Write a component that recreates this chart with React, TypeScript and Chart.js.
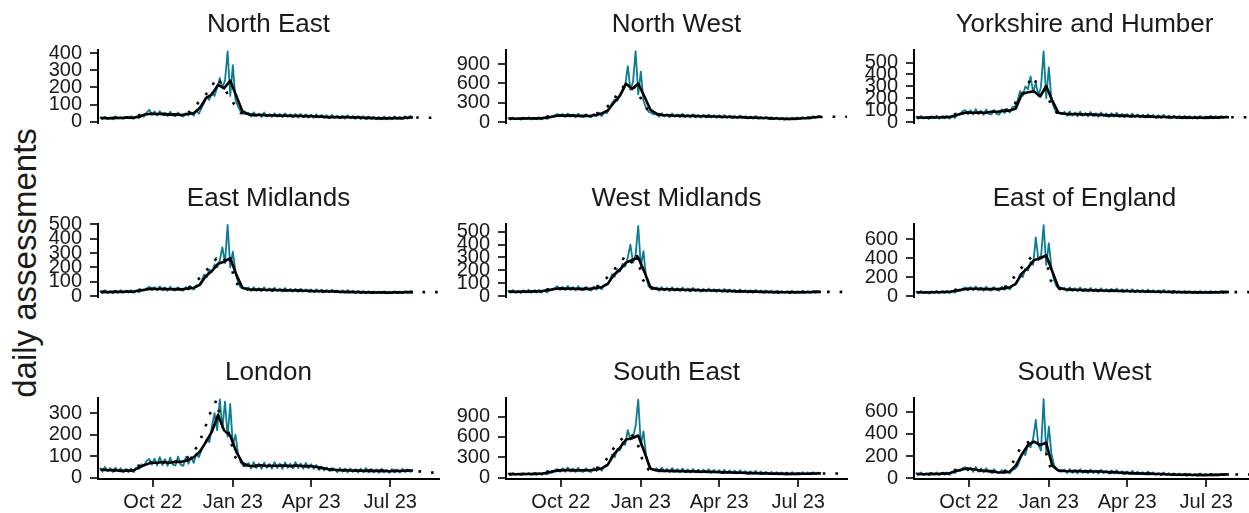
import React, { useEffect, useRef } from "react";
import { Chart, registerables } from "chart.js";

Chart.register(...registerables);

const FONT = '"Liberation Sans", Arial, Helvetica, sans-serif';
const TEAL = "#0b7d92";
const TEXT = "#1a1a1a";

// x axis: days relative to 1 Oct 2022
const X_MIN = -63;
const X_MAX = 329;
const X_TICKS = [0, 92, 182, 273];
const X_TICK_LABELS = ["Oct 22", "Jan 23", "Apr 23", "Jul 23"];

// series sampling (first day, step in days)
const DAILY_START = -61;
const DAILY_STEP = 3;
const SMOOTH_START = -58;
const SMOOTH_STEP = 7;
const DOTTED_START = -60;
const DOTTED_STEP = 7;

const REGIONS = [
  "North East", "North West", "Yorkshire and Humber",
  "East Midlands", "West Midlands", "East of England",
  "London", "South East", "South West",
];

// ---------- North East ----------
const neDaily = [
  28, 15, 30, 18, 25, 14, 31, 19, 27, 16, 29, 20, 33, 17, 30, 22,
  35, 30, 55, 70, 42,
  60, 36, 62, 40, 52, 33, 58, 38, 32, 54, 36, 30, 50, 38,
  55, 36, 66, 48, 80,
  110, 145, 128, 170, 150, 200, 255, 200,
  240, 410, 150, 330, 130,
  90, 60, 48, 45,
  52, 30, 55, 33, 46, 28, 54, 31, 45, 29,
  50, 30, 46, 27, 49, 29, 44, 26, 45, 25,
  46, 27, 43, 24, 42, 23, 44, 25, 40, 22,
  38, 21, 40, 22, 36, 20, 35, 18, 38, 20,
  34, 17, 33, 16, 32, 15, 31, 15, 30, 16,
  29, 14, 31, 15, 28, 15, 32, 16, 30, 16,
  33, 18, 34, 26,
];
const neSmooth = [
  22, 20, 23, 22, 25, 23, 30, 42, 47, 45,
  46, 42, 43, 40, 45, 50, 80, 138, 160, 215,
  195, 240, 150, 62, 43, 39, 41, 37, 38, 35,
  37, 34, 35, 32, 33, 31, 30, 27, 28, 26,
  28, 25, 26, 23, 23, 20, 21, 20, 22, 20,
  24, 25,
];
const neDotted = [
  22, 21, 22, 23, 24, 25, 35, 46, 47, 45,
  43, 42, 41, 43, 48, 65, 110, 150, 185, 257,
  215, 153, 100, 52, 42, 40, 39, 38, 37, 36,
  35, 35, 34, 33, 33, 31, 29, 27, 26, 28,
  27, 26, 24, 23, 21, 20, 21, 20, 21, 22,
  24, 25, 25, 25, 24, 24, 24,
];

// ---------- North West ----------
const nwDaily = [
  68, 40, 72, 44, 62, 38, 70, 45, 75, 40, 66, 44, 74, 42, 70, 50,
  70, 75, 105, 125, 90,
  128, 78, 134, 82, 120, 74, 130, 84, 78, 124, 84, 74, 128, 90,
  140, 92, 150, 140, 220,
  300, 350, 330, 420, 480, 560, 866, 500,
  620, 1100, 430, 782, 330,
  220, 160, 140, 120,
  135, 82, 138, 86, 124, 76, 134, 82, 118, 74,
  128, 78, 116, 72, 122, 76, 112, 68, 114, 70,
  118, 72, 108, 66, 106, 64, 110, 68, 100, 62,
  96, 58, 102, 62, 92, 55, 88, 52, 94, 56,
  85, 50, 82, 47, 76, 43, 70, 40, 68, 42,
  66, 40, 70, 44, 72, 48, 78, 52, 84, 56,
  90, 62, 96, 82,
];
const nwSmooth = [
  56, 53, 57, 55, 60, 58, 72, 86, 102, 101,
  104, 96, 98, 95, 110, 135, 180, 300, 410, 596,
  512, 596, 400, 190, 130, 108, 106, 98, 100, 94,
  96, 90, 92, 86, 87, 80, 82, 76, 77, 70,
  70, 63, 64, 58, 56, 49, 50, 51, 59, 64,
  75, 82,
];
const nwDotted = [
  55, 55, 56, 57, 59, 62, 78, 95, 102, 103,
  100, 97, 96, 100, 118, 150, 230, 290, 470, 560,
  580, 520, 307, 170, 125, 110, 103, 99, 97, 95,
  93, 91, 89, 86, 83, 81, 79, 76, 73, 70,
  66, 63, 61, 58, 55, 51, 48, 50, 55, 62,
  70, 78, 80, 82, 82, 82, 82,
];

// ---------- Yorkshire and Humber ----------
const yhDaily = [
  48, 28, 52, 30, 44, 26, 50, 31, 54, 28, 47, 31, 54, 29, 50, 34,
  60, 65, 92, 100, 66,
  100, 62, 108, 66, 96, 60, 106, 68, 64, 102, 68, 62, 108, 76,
  112, 80, 125, 130, 180,
  260, 220, 300, 276, 384, 250, 330, 220,
  300, 595, 200, 460, 190,
  120, 80, 72, 66,
  86, 52, 90, 54, 80, 48, 88, 52, 76, 46,
  84, 50, 74, 44, 80, 48, 72, 43, 74, 44,
  78, 47, 69, 41, 66, 40, 71, 43, 64, 38,
  62, 37, 66, 39, 59, 35, 57, 33, 61, 36,
  55, 32, 53, 31, 52, 30, 51, 29, 50, 30,
  48, 28, 52, 31, 47, 29, 53, 32, 50, 31,
  52, 33, 49, 40,
];
const yhSmooth = [
  38, 36, 39, 38, 41, 40, 56, 70, 80, 78,
  80, 78, 86, 86, 94, 96, 114, 235, 250, 258,
  215, 303, 180, 78, 70, 66, 68, 63, 65, 60,
  62, 56, 58, 52, 54, 49, 51, 46, 48, 43,
  45, 40, 42, 37, 39, 36, 38, 35, 39, 37,
  40, 40,
];
const yhDotted = [
  38, 38, 38, 39, 41, 44, 62, 75, 79, 79,
  79, 82, 86, 90, 95, 105, 150, 200, 290, 384,
  305, 270, 159, 80, 69, 67, 65, 64, 62, 61,
  59, 57, 55, 53, 51, 50, 49, 47, 45, 44,
  42, 41, 39, 38, 38, 37, 37, 38, 38, 39,
  40, 40, 40, 40, 40, 40, 40,
];

// ---------- East Midlands ----------
const emDaily = [
  38, 22, 41, 23, 35, 20, 39, 24, 42, 22, 37, 25, 42, 23, 39, 27,
  38, 40, 55, 65, 42,
  63, 39, 68, 41, 60, 37, 66, 42, 39, 62, 42, 38, 64, 45,
  66, 46, 76, 75, 105,
  150, 130, 185, 170, 220, 200, 250, 340,
  230, 495, 200, 310, 170,
  95, 60, 52, 48,
  60, 36, 62, 38, 56, 34, 61, 37, 54, 33,
  58, 35, 52, 32, 56, 34, 51, 31, 50, 30,
  52, 32, 47, 29, 46, 28, 48, 30, 45, 27,
  43, 26, 45, 27, 40, 25, 39, 23, 42, 25,
  38, 22, 37, 21, 36, 20, 34, 20, 33, 21,
  32, 19, 34, 20, 32, 20, 35, 21, 33, 20,
  34, 22, 33, 28,
];
const emSmooth = [
  30, 28, 31, 30, 32, 31, 39, 45, 51, 50,
  51, 48, 49, 47, 53, 57, 78, 140, 175, 225,
  240, 265, 150, 58, 48, 45, 46, 43, 44, 41,
  42, 39, 40, 37, 37, 34, 35, 32, 33, 30,
  31, 28, 29, 26, 27, 25, 26, 24, 27, 25,
  28, 28,
];
const emDotted = [
  30, 30, 30, 31, 32, 34, 42, 48, 51, 51,
  49, 48, 48, 50, 55, 70, 115, 160, 210, 260,
  230, 290, 110, 52, 47, 45, 44, 43, 42, 41,
  40, 39, 38, 37, 35, 34, 33, 32, 31, 30,
  29, 28, 27, 26, 26, 25, 25, 26, 26, 27,
  28, 28, 28, 28, 28, 28, 28,
];

// ---------- West Midlands ----------
const wmDaily = [
  44, 26, 47, 27, 41, 24, 45, 28, 49, 26, 43, 28, 49, 27, 45, 30,
  44, 46, 63, 76, 48,
  72, 45, 78, 47, 70, 43, 76, 48, 45, 72, 49, 43, 75, 50,
  76, 52, 88, 90, 120,
  170, 150, 210, 190, 250, 230, 300, 400,
  260, 320, 545, 230, 350,
  150, 75, 60, 55,
  68, 41, 71, 43, 64, 39, 69, 42, 62, 38,
  66, 40, 60, 37, 64, 39, 58, 35, 57, 35,
  59, 37, 54, 33, 53, 32, 56, 34, 51, 31,
  49, 30, 52, 32, 46, 28, 45, 26, 48, 29,
  44, 26, 43, 25, 42, 24, 40, 23, 39, 25,
  38, 22, 40, 24, 38, 23, 41, 25, 39, 24,
  40, 26, 39, 33,
];
const wmSmooth = [
  35, 33, 36, 35, 38, 37, 46, 53, 59, 58,
  59, 56, 57, 56, 63, 69, 95, 165, 205, 260,
  280, 300, 190, 70, 56, 53, 53, 50, 51, 47,
  48, 45, 46, 43, 43, 40, 41, 37, 38, 35,
  36, 33, 34, 31, 32, 30, 31, 29, 32, 30,
  33, 33,
];
const wmDotted = [
  35, 35, 35, 36, 38, 41, 50, 56, 59, 59,
  57, 56, 57, 60, 66, 85, 135, 190, 240, 300,
  250, 330, 130, 62, 55, 53, 51, 50, 49, 47,
  46, 45, 44, 43, 41, 40, 39, 37, 36, 35,
  34, 33, 32, 31, 31, 30, 30, 31, 31, 32,
  33, 33, 33, 33, 33, 33, 33,
];

// ---------- East of England ----------
const eeDaily = [
  50, 29, 54, 31, 47, 27, 52, 32, 56, 29, 49, 32, 56, 31, 52, 34,
  55, 52, 78, 92, 60,
  94, 58, 102, 60, 90, 56, 99, 62, 58, 94, 63, 57, 98, 66,
  102, 70, 115, 115, 160,
  230, 200, 290, 270, 360, 330, 620, 380,
  420, 750, 330, 560, 300,
  170, 100, 80, 72,
  88, 53, 92, 55, 83, 50, 90, 53, 78, 48,
  86, 51, 76, 46, 83, 49, 74, 44, 76, 46,
  80, 49, 71, 43, 69, 42, 73, 44, 66, 40,
  64, 38, 68, 41, 61, 37, 59, 35, 64, 38,
  58, 33, 56, 32, 54, 31, 53, 31, 52, 32,
  51, 30, 54, 32, 50, 31, 55, 34, 52, 33,
  54, 35, 51, 42,
];
const eeSmooth = [
  40, 38, 41, 40, 43, 43, 56, 67, 75, 77,
  77, 73, 74, 74, 81, 91, 130, 240, 300, 380,
  400, 430, 260, 90, 72, 67, 67, 63, 63, 59,
  59, 56, 57, 54, 54, 51, 51, 48, 48, 45,
  46, 43, 44, 41, 42, 39, 40, 38, 41, 39,
  42, 42,
];
const eeDotted = [
  40, 40, 40, 41, 43, 48, 62, 72, 76, 77,
  75, 73, 74, 78, 86, 110, 200, 280, 360, 420,
  380, 470, 170, 80, 70, 67, 65, 63, 61, 59,
  57, 56, 55, 54, 52, 51, 49, 48, 46, 45,
  44, 43, 42, 41, 40, 39, 39, 40, 40, 41,
  42, 42, 42, 42, 42, 42, 42,
];

// ---------- London ----------
const ldDaily = [
  46, 27, 49, 29, 44, 26, 46, 29, 43, 24, 40, 25, 42, 24, 46, 40,
  62, 56, 78, 86, 60,
  88, 56, 95, 58, 86, 54, 93, 60, 56, 98, 60, 54, 95, 64,
  96, 68, 112, 95, 130,
  150, 180, 165, 240, 300, 220, 365, 230,
  354, 190, 343, 150, 200,
  110, 70, 58, 52,
  68, 42, 72, 44, 65, 40, 70, 45, 63, 41,
  72, 44, 65, 40, 70, 45, 64, 42, 72, 44,
  65, 41, 68, 43, 62,
  40, 58, 36, 50, 33, 46, 30, 44,
  40, 25, 44, 27, 41, 24, 42, 26, 39, 23,
  41, 25, 44, 26, 40, 23, 38, 22, 41, 24,
  36, 22, 40, 24, 37, 23, 41, 25, 38, 26,
  34,
];
const ldSmooth = [
  36, 34, 35, 31, 32, 32, 46, 59, 69, 69,
  72, 69, 73, 73, 81, 95, 120, 165, 215, 292,
  220, 195, 120, 68, 55, 53, 57, 54, 55, 55,
  56, 53, 56, 53, 54, 50, 45, 40, 36, 34,
  35, 32, 33, 31, 32, 31, 32, 29, 31, 30,
  33, 33,
];
const ldDotted = [
  37, 35, 33, 31, 32, 38, 52, 65, 70, 71,
  70, 71, 73, 77, 88, 110, 150, 220, 300, 360,
  240, 215, 100, 58, 56, 55, 56, 55, 55, 56,
  54, 55, 54, 53, 52, 48, 42, 37, 35, 34,
  33, 32, 32, 31, 31, 31, 30, 30, 30, 31,
  32, 32, 30, 26, 24, 22, 22,
];

// ---------- South East ----------
const seDaily = [
  62, 38, 66, 40, 57, 35, 64, 41, 68, 38, 60, 41, 68, 39, 63, 44,
  70, 68, 102, 125, 85,
  136, 85, 148, 88, 130, 82, 143, 90, 85, 136, 92, 82, 140, 96,
  148, 100, 165, 170, 230,
  340, 300, 420, 400, 520, 480, 700, 560,
  600, 760, 1150, 480, 680,
  330, 180, 130, 115,
  138, 84, 146, 88, 128, 78, 140, 86, 124, 76,
  134, 82, 120, 73, 126, 77, 116, 70, 118, 72,
  122, 74, 112, 68, 110, 66, 115, 70, 104, 63,
  100, 60, 106, 64, 95, 58, 92, 54, 98, 58,
  88, 52, 84, 49, 81, 47, 78, 45, 76, 47,
  74, 44, 78, 46, 72, 45, 80, 49, 76, 47,
  78, 50, 74, 60,
];
const seSmooth = [
  50, 48, 51, 51, 54, 55, 71, 91, 105, 109,
  109, 105, 106, 107, 116, 134, 190, 340, 440, 560,
  580, 620, 380, 130, 105, 98, 99, 94, 95, 90,
  91, 86, 87, 82, 81, 76, 76, 70, 71, 65,
  65, 60, 61, 56, 57, 54, 55, 53, 56, 55,
  59, 60,
];
const seDotted = [
  50, 50, 50, 52, 54, 60, 80, 98, 106, 109,
  107, 105, 106, 112, 125, 160, 260, 400, 520, 600,
  640, 560, 250, 115, 102, 99, 97, 95, 93, 91,
  89, 87, 85, 82, 79, 76, 73, 71, 68, 65,
  63, 61, 59, 57, 55, 54, 54, 55, 55, 57,
  59, 60, 60, 60, 60, 60, 60,
];

// ---------- South West ----------
const swDaily = [
  50, 29, 53, 30, 46, 27, 51, 32, 54, 29, 48, 32, 54, 31, 55, 48,
  72, 64, 92, 100, 70,
  96, 58, 102, 60, 88, 54, 90, 58, 52, 82, 54, 47, 75, 50,
  68, 45, 76, 85, 110,
  170, 230, 210, 300, 280, 360, 525, 300,
  250, 712, 230, 465, 220,
  120, 75, 66, 62,
  80, 48, 85, 50, 76, 45, 83, 49, 73, 45,
  80, 48, 70, 43, 78, 46, 68, 41, 70, 42,
  73, 44, 65, 39, 63, 38, 68, 41, 60, 36,
  56, 33, 61, 36, 54, 31, 49, 29, 54, 32,
  47, 27, 45, 26, 44, 25, 42, 24, 41, 25,
  40, 23, 44, 25, 39, 24, 42, 25, 40, 24,
  42, 27, 40, 33,
];
const swSmooth = [
  39, 37, 40, 39, 42, 44, 63, 77, 89, 81,
  73, 67, 65, 55, 53, 60, 115, 215, 300, 330,
  300, 320, 114, 70, 66, 64, 66, 63, 64, 61,
  61, 57, 56, 51, 49, 45, 46, 42, 42, 39,
  39, 35, 35, 32, 33, 30, 31, 29, 32, 31,
  34, 35,
];
const swDotted = [
  39, 39, 39, 40, 42, 52, 70, 84, 86, 77,
  70, 66, 60, 54, 55, 80, 160, 270, 320, 335,
  310, 280, 90, 68, 66, 65, 64, 63, 62, 61,
  59, 56, 53, 50, 47, 45, 44, 42, 40, 39,
  37, 35, 33, 32, 31, 30, 30, 31, 31, 32,
  34, 35, 35, 35, 35, 35, 35,
];

// y tick values per panel
const neTicks = [0, 100, 200, 300, 400];
const nwTicks = [0, 300, 600, 900];
const yhTicks = [0, 100, 200, 300, 400, 500];
const emTicks = [0, 100, 200, 300, 400, 500];
const wmTicks = [0, 100, 200, 300, 400, 500];
const eeTicks = [0, 200, 400, 600];
const ldTicks = [0, 100, 200, 300];
const seTicks = [0, 300, 600, 900];
const swTicks = [0, 200, 400, 600];

const PANELS = [
  { daily: neDaily, smooth: neSmooth, dotted: neDotted, ticks: neTicks, yMin: -7, yMax: 418 },
  { daily: nwDaily, smooth: nwSmooth, dotted: nwDotted, ticks: nwTicks, yMin: -14, yMax: 1117 },
  { daily: yhDaily, smooth: yhSmooth, dotted: yhDotted, ticks: yhTicks, yMin: -8, yMax: 606 },
  { daily: emDaily, smooth: emSmooth, dotted: emDotted, ticks: emTicks, yMin: -6, yMax: 502 },
  { daily: wmDaily, smooth: wmSmooth, dotted: wmDotted, ticks: wmTicks, yMin: -7, yMax: 560 },
  { daily: eeDaily, smooth: eeSmooth, dotted: eeDotted, ticks: eeTicks, yMin: -10, yMax: 762 },
  { daily: ldDaily, smooth: ldSmooth, dotted: ldDotted, ticks: ldTicks, yMin: -7, yMax: 371 },
  { daily: seDaily, smooth: seSmooth, dotted: seDotted, ticks: seTicks, yMin: -22, yMax: 1173 },
  { daily: swDaily, smooth: swSmooth, dotted: swDotted, ticks: swTicks, yMin: -6, yMax: 723 },
];

// layout (px)
const COL_X = [98, 506, 914];
const ROW_TOP = [50, 224, 398];
const PLOT_W = 341;
const LABEL_W = 70;
const TITLE_H = 44;
const PLOT_H = 81;
const BOTTOM_PAD = 12;
const XAXIS_H = 34;
const CANVAS_W = LABEL_W + PLOT_W + LABEL_W;

const toPoints = (start: number, step: number, values: number[]) =>
  values.map((y, i) => ({ x: start + step * i, y }));

export default function App() {
  const refs = useRef<(HTMLCanvasElement | null)[]>([]);

  useEffect(() => {
    const charts = PANELS.map((p, i) => {
      const row = Math.floor(i / 3);
      const isBottom = row === 2;
      const canvas = refs.current[i] as HTMLCanvasElement;
      const tickFont = { family: FONT, size: 20 };
      const gridCfg = {
        display: true,
        drawOnChartArea: false,
        drawTicks: true,
        tickLength: 8,
        color: "#333333",
        lineWidth: 2,
      };
      return new Chart(canvas, {
        type: "line",
        data: {
          datasets: [
            {
              data: toPoints(DOTTED_START, DOTTED_STEP, p.dotted),
              borderColor: "#000000",
              borderWidth: 2.6,
              borderDash: [2.6, 10],
              borderCapStyle: "butt",
              pointRadius: 0,
              tension: 0,
              order: 1,
            },
            {
              data: toPoints(SMOOTH_START, SMOOTH_STEP, p.smooth),
              borderColor: "#000000",
              borderWidth: 2.6,
              borderJoinStyle: "round",
              pointRadius: 0,
              tension: 0,
              order: 2,
            },
            {
              data: toPoints(DAILY_START, DAILY_STEP, p.daily),
              borderColor: TEAL,
              borderWidth: 1.8,
              borderJoinStyle: "round",
              pointRadius: 0,
              tension: 0,
              order: 3,
            },
          ],
        },
        options: {
          animation: false,
          responsive: false,
          maintainAspectRatio: false,
          events: [],
          layout: {
            padding: { left: 0, right: 0, top: 0, bottom: isBottom ? 0 : BOTTOM_PAD },
          },
          plugins: {
            legend: { display: false },
            tooltip: { enabled: false },
            title: {
              display: true,
              text: REGIONS[i],
              color: TEXT,
              font: { family: FONT, size: 26, weight: "normal", lineHeight: 1 },
              padding: { top: 6, bottom: 12 },
            },
          },
          scales: {
            x: {
              type: "linear",
              min: X_MIN,
              max: X_MAX,
              display: isBottom,
              afterBuildTicks: (scale: any) => {
                scale.ticks = X_TICKS.map((v) => ({ value: v }));
              },
              afterFit: (scale: any) => {
                scale.height = isBottom ? XAXIS_H : 0;
              },
              ticks: {
                autoSkip: false,
                maxRotation: 0,
                padding: 3,
                color: TEXT,
                font: tickFont,
                callback: (v: any) => {
                  const k = X_TICKS.indexOf(Number(v));
                  return k >= 0 ? X_TICK_LABELS[k] : "";
                },
              },
              grid: gridCfg,
              border: { display: true, color: "#000000", width: 2 },
            },
            y: {
              type: "linear",
              position: "left",
              min: p.yMin,
              max: p.yMax,
              afterBuildTicks: (scale: any) => {
                scale.ticks = p.ticks.map((v) => ({ value: v }));
              },
              afterFit: (scale: any) => {
                scale.width = LABEL_W;
              },
              ticks: {
                autoSkip: false,
                padding: 8,
                color: TEXT,
                font: tickFont,
                callback: (v: any) => String(v),
              },
              grid: gridCfg,
              border: { display: true, color: "#000000", width: 2 },
            },
            spacer: {
              type: "linear",
              position: "right",
              display: true,
              min: 0,
              max: 1,
              afterBuildTicks: (scale: any) => {
                scale.ticks = [];
              },
              afterFit: (scale: any) => {
                scale.width = LABEL_W;
              },
              ticks: { display: false },
              grid: { display: false, drawTicks: false },
              border: { display: false },
            },
          },
        },
      } as any);
    });
    return () => charts.forEach((c) => c.destroy());
  }, []);

  return (
    <div
      style={{
        position: "absolute",
        left: 0,
        top: 0,
        width: 1249,
        height: 513,
        overflow: "hidden",
        background: "#ffffff",
      }}
    >
      <div
        style={{
          position: "absolute",
          left: 24,
          top: 263,
          transform: "translate(-50%, -50%) rotate(-90deg)",
          fontFamily: FONT,
          fontSize: 33,
          lineHeight: 1,
          color: TEXT,
          whiteSpace: "nowrap",
        }}
      >
        daily assessments
      </div>
      {PANELS.map((_, i) => {
        const row = Math.floor(i / 3);
        const col = i % 3;
        const h = TITLE_H + PLOT_H + (row === 2 ? XAXIS_H : BOTTOM_PAD);
        return (
          <canvas
            key={i}
            ref={(el) => {
              refs.current[i] = el;
            }}
            width={CANVAS_W}
            height={h}
            style={{
              position: "absolute",
              left: COL_X[col] - LABEL_W,
              top: ROW_TOP[row] - TITLE_H,
              width: CANVAS_W,
              height: h,
            }}
          />
        );
      })}
    </div>
  );
}
